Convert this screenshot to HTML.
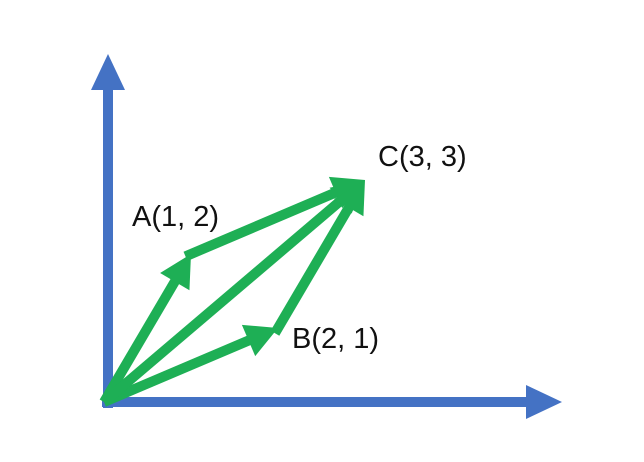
<!DOCTYPE html>
<html><head><meta charset="utf-8"><style>
html,body{margin:0;padding:0;background:#fff;}
svg{display:block;}
text{font-family:"Liberation Sans","Noto Sans CJK SC",sans-serif;font-size:29px;fill:#111;}
</style></head><body>
<svg id="chart" width="644" height="462">
<g id="axes">
<line x1="108" y1="408" x2="108" y2="88" stroke="#4472C4" stroke-width="10"/>
<polygon points="108,54 91,90 125,90" fill="#4472C4"/>
<line x1="102" y1="402" x2="528" y2="402" stroke="#4472C4" stroke-width="10"/>
<polygon points="562,402 526,385 526,419" fill="#4472C4"/>
</g>
<g id="vecs"></g>
<g id="labels"></g>
</svg>
<script>
const pointNames = ["O","A","B","C"];
const pointX = [0,1,2,3];
const pointY = [0,2,1,3];
const vectorFrom = ["O","O","O","A","B"];
const vectorTo = ["A","B","C","C","C"];
const labelPoints = ["A","B","C"];
const ox=104, oy=402, xs=87, ys=74;
function sx(v){return ox+v*xs;}
function sy(v){return oy-v*ys;}
const NS="http://www.w3.org/2000/svg";
const g=document.getElementById('vecs');
function P(n){const i=pointNames.indexOf(n);return [sx(pointX[i]),sy(pointY[i])];}
for(let k=0;k<vectorFrom.length;k++){
  const a=P(vectorFrom[k]), b=P(vectorTo[k]);
  const dx=b[0]-a[0], dy=b[1]-a[1], L=Math.hypot(dx,dy), ux=dx/L, uy=dy/L;
  const hl=32, hw=17;
  const bx=b[0]-ux*hl, by=b[1]-uy*hl;
  const sxp=vectorFrom[k]==="O"?a[0]:a[0]-ux*6, syp=vectorFrom[k]==="O"?a[1]:a[1]-uy*6;
  const line=document.createElementNS(NS,'line');
  
  
  line.setAttribute('x1',sxp);line.setAttribute('y1',syp);
  line.setAttribute('x2',bx+ux*2);line.setAttribute('y2',by+uy*2);
  line.setAttribute('stroke','#1EAF55');line.setAttribute('stroke-width','10');
  g.appendChild(line);
  const h=document.createElementNS(NS,'polygon');
  
  
  h.setAttribute('points',`${b[0]},${b[1]} ${bx-uy*hw},${by+ux*hw} ${bx+uy*hw},${by-ux*hw}`);
  h.setAttribute('fill','#1EAF55');
  g.appendChild(h);
}
const lg=document.getElementById('labels');
const off={A:[-59,-28],B:[14,20],C:[13,-14]};
labelPoints.forEach(n=>{
  const i=pointNames.indexOf(n), p=P(n);
  const t=document.createElementNS(NS,'text');
  
  
  t.setAttribute('x',p[0]+off[n][0]);t.setAttribute('y',p[1]+off[n][1]);
  t.textContent=n+'('+pointX[i]+', '+pointY[i]+')';
  lg.appendChild(t);
});
</script>
</body></html>
